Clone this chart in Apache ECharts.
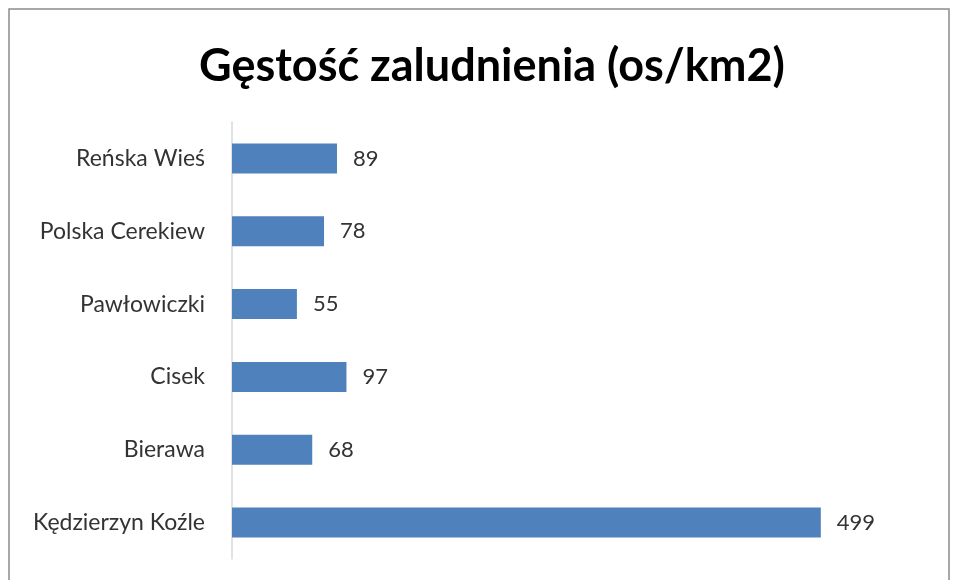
<!DOCTYPE html>
<html>
<head>
<meta charset="utf-8">
<script src="https://cdn.jsdelivr.net/npm/echarts@6/dist/echarts.min.js"></script>
<style>
  html, body { margin: 0; padding: 0; background: #fff; }
  #chart { width: 958px; height: 580px; }
</style>
</head>
<body>
<div id="chart"></div>
<script>
// gminy, od góry wykresu do dołu
const categories = ["Reńska Wieś", "Polska Cerekiew", "Pawłowiczki", "Cisek", "Bierawa", "Kędzierzyn Koźle"];
const density = [89, 78, 55, 97, 68, 499];

const chart = echarts.init(document.getElementById("chart"));

chart.setOption({
  animation: false,
  backgroundColor: "#fff",
  graphic: [{
    type: "rect",
    shape: { x: 9, y: 9, width: 940, height: 590 },
    style: { fill: "none", stroke: "#8c8c8c", lineWidth: 1.5 },
    silent: true
  }],
  title: {
    text: "Gęstość zaludnienia (os/km2)",
    left: 487,
    top: 39,
    textAlign: "center",
    textStyle: { fontFamily: "Lato", fontWeight: "bold", fontSize: 45, color: "#000" }
  },
  grid: { left: 232, top: 122, width: 708, height: 437 },
  xAxis: {
    type: "value",
    min: 0,
    max: 600,
    show: false
  },
  yAxis: {
    type: "category",
    inverse: true,
    data: categories,
    axisLine: { lineStyle: { color: "#d9d9d9", width: 1.5 } },
    axisTick: { show: false },
    axisLabel: { fontFamily: "Lato", fontSize: 23, color: "#333", margin: 27 }
  },
  series: [{
    type: "bar",
    data: density,
    barWidth: 30,
    itemStyle: { color: "#4f81bd" },
    label: {
      show: true,
      position: "right",
      distance: 16,
      fontFamily: "Lato",
      fontSize: 22,
      color: "#333"
    }
  }]
});
</script>
</body>
</html>
